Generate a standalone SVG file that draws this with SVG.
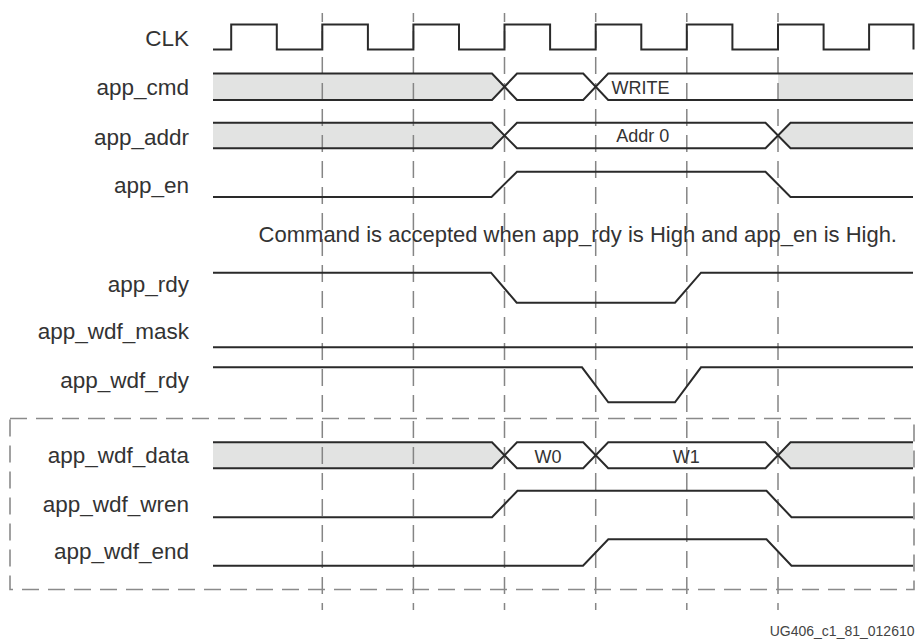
<svg xmlns="http://www.w3.org/2000/svg" width="918" height="641" viewBox="0 0 918 641">
<style>
  .lbl { font-family: "Liberation Sans", Arial, sans-serif; font-size: 22.5px; fill: #333; text-anchor: end; }
  .val { font-family: "Liberation Sans", Arial, sans-serif; font-size: 18px; fill: #333; }
  .note { font-family: "Liberation Sans", Arial, sans-serif; font-size: 22px; fill: #333; text-anchor: end; }
  .foot { font-family: "Liberation Sans", Arial, sans-serif; font-size: 14px; fill: #444; text-anchor: end; }
  .sig { fill: none; stroke: #2a2a2a; stroke-width: 2; stroke-linejoin: miter; }
  .fill { fill: #e2e3e2; stroke: none; }
  .grid { stroke: #858585; stroke-width: 1.5; stroke-dasharray: 17 9; stroke-dashoffset: 8; fill: none; }
  .box { fill: none; stroke: #8a8a8a; stroke-width: 1.6; stroke-dasharray: 17 9; }
</style>
<rect width="918" height="641" fill="#ffffff"/>

<!-- bus fills -->
<g id="fills">
  <path class="fill" d="M213,73.5 H492 L504.5,86.75 L492,100 H213 Z"/>
  <path class="fill" d="M778,73.5 H913 V100 H778 Z"/>
  <path class="fill" d="M213,122.7 H492 L504.5,135.5 L492,148.3 H213 Z"/>
  <path class="fill" d="M778,135.5 L790.5,122.7 H913 V148.3 H790.5 Z"/>
  <path class="fill" d="M213,442.3 H492 L504.5,455.3 L492,468.3 H213 Z"/>
  <path class="fill" d="M778,455.3 L790.5,442.3 H913 V468.3 H790.5 Z"/>
</g>

<!-- grid (cycle markers) -->
<g id="connectors">
  <line class="grid" x1="322.3" y1="13" x2="322.3" y2="610"/>
  <line class="grid" x1="413.4" y1="13" x2="413.4" y2="610"/>
  <line class="grid" x1="504.5" y1="13" x2="504.5" y2="610"/>
  <line class="grid" x1="595.7" y1="13" x2="595.7" y2="610"/>
  <line class="grid" x1="686.8" y1="13" x2="686.8" y2="610"/>
  <line class="grid" x1="778" y1="13" x2="778" y2="610"/>
</g>

<g id="write-data-box">
  <rect class="box" x="10" y="418.5" width="904" height="171"/>
</g>

<g id="clk">
  <text class="lbl" x="189" y="46">CLK</text>
  <path class="sig" d="M213,49.5 H231.2 V24.5 H276.8 V49.5 H322.3 V24.5 H367.9 V49.5 H413.4 V24.5 H459 V49.5 H504.5 V24.5 H550.1 V49.5 H595.7 V24.5 H641.3 V49.5 H686.8 V24.5 H732.4 V49.5 H778 V24.5 H823.6 V49.5 H869.1 V24.5 H913.5 V49.5"/>
</g>

<g id="app_cmd">
  <text class="lbl" x="189" y="95">app_cmd</text>
  <path class="sig" d="M213,73.5 H492 L517,100 H583.2 L608.2,73.5 H913"/>
  <path class="sig" d="M213,100 H492 L517,73.5 H583.2 L608.2,100 H913"/>
  <text class="val" x="611.5" y="94.3">WRITE</text>
</g>

<g id="app_addr">
  <text class="lbl" x="189" y="145">app_addr</text>
  <path class="sig" d="M213,122.7 H492 L517,148.3 H765.5 L790.5,122.7 H913"/>
  <path class="sig" d="M213,148.3 H492 L517,122.7 H765.5 L790.5,148.3 H913"/>
  <text class="val" x="642.7" y="141.7" text-anchor="middle">Addr 0</text>
</g>

<g id="app_en">
  <text class="lbl" x="189" y="193.3">app_en</text>
  <path class="sig" d="M213,197 H491.5 L517,171.7 H765.5 L790.5,197 H913"/>
</g>

<g id="note">
  <text class="note" x="897" y="241.7">Command is accepted when app_rdy is High and app_en is High.</text>
</g>

<g id="app_rdy">
  <text class="lbl" x="189" y="291.7">app_rdy</text>
  <path class="sig" d="M213,272.7 H491 L516.7,302.7 H675 L701,272.7 H913"/>
</g>

<g id="app_wdf_mask">
  <text class="lbl" x="189" y="339.3">app_wdf_mask</text>
  <path class="sig" d="M213,347.3 H913"/>
</g>

<g id="app_wdf_rdy">
  <text class="lbl" x="189" y="388.3">app_wdf_rdy</text>
  <path class="sig" d="M213,367.3 H582 L608.3,402.3 H675 L701,367.3 H913"/>
</g>

<g id="app_wdf_data">
  <text class="lbl" x="189" y="463.3">app_wdf_data</text>
  <path class="sig" d="M213,442.3 H492 L517,468.3 H583.2 L608.2,442.3 H765.5 L790.5,468.3 H913"/>
  <path class="sig" d="M213,468.3 H492 L517,442.3 H583.2 L608.2,468.3 H765.5 L790.5,442.3 H913"/>
  <text class="val" x="548" y="462.7" text-anchor="middle">W0</text>
  <text class="val" x="686.3" y="462.7" text-anchor="middle">W1</text>
</g>

<g id="app_wdf_wren">
  <text class="lbl" x="189" y="511.7">app_wdf_wren</text>
  <path class="sig" d="M213,517.3 H492 L517.5,490.7 H766.5 L791.5,517.3 H913"/>
</g>

<g id="app_wdf_end">
  <text class="lbl" x="189" y="559.3">app_wdf_end</text>
  <path class="sig" d="M213,565.7 H583 L608.3,539.3 H766.5 L791.5,565.7 H913"/>
</g>

<g id="footer">
  <text class="foot" x="914.5" y="636">UG406_c1_81_012610</text>
</g>
</svg>
